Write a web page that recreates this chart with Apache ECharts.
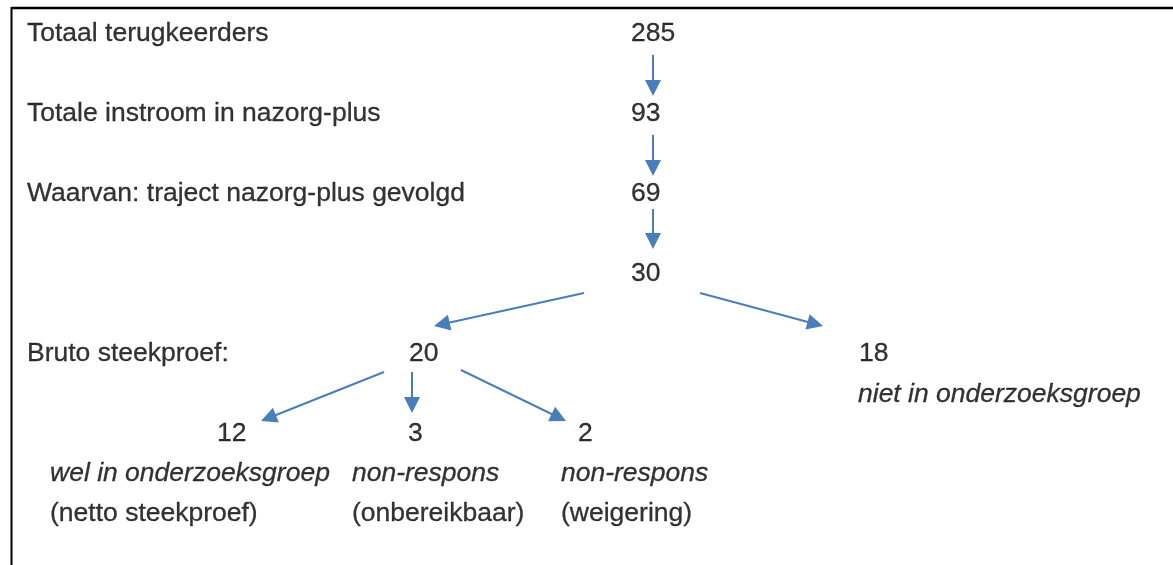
<!DOCTYPE html>
<html>
<head>
<meta charset="utf-8">
<script src="https://cdn.jsdelivr.net/npm/echarts@6/dist/echarts.min.js"></script>
<style>
html,body{margin:0;padding:0;background:#fff;}
#chart{width:1173px;height:565px;}
</style>
</head>
<body>
<div id="chart"></div>
<script>
// ---- data ----
var rowLabels = ['Totaal terugkeerders', 'Totale instroom in nazorg-plus', 'Waarvan: traject nazorg-plus gevolgd', 'Bruto steekproef:'];
var counts = [285, 93, 69, 30, 20, 18, 12, 3, 2];
var italicNotes = ['niet in onderzoeksgroep', 'wel in onderzoeksgroep', 'non-respons', 'non-respons'];
var plainNotes = ['(netto steekproef)', '(onbereikbaar)', '(weigering)'];
// flows: [fromIndex, toIndex] into counts
var flows = [[0,1],[1,2],[2,3],[3,4],[3,5],[4,6],[4,7],[4,8]];

// ---- layout (positions kept separate from data) ----
var rowLabelPos = [[27,34],[27,114],[27,194],[27,354]];
var countPos = [[631,34],[631,114],[631,194],[631,274],[409,354],[859,354],[217,434],[408,434],[578,434]];
var italicPos = [[858,395],[50,474],[352,474],[561,474]];
var plainPos = [[50,514],[352,514],[561,514]];
var flowPos = [
  [[653,55],[653,96]],
  [[653,135],[653,176]],
  [[653,209],[653,249]],
  [[584,293],[434,326]],
  [[700,293],[823,326]],
  [[384,372],[261,421]],
  [[412,372],[412,413]],
  [[461,370],[566,421]]
];

var FONT = 'Liberation Sans, Arial, Helvetica, sans-serif';
var FS = 26.5;

function pts(labels, pos) {
  return labels.map(function (l, i) { return { value: pos[i], name: String(l) }; });
}
function textSeries(labels, pos, italic) {
  return {
    type: 'scatter',
    symbolSize: 0,
    silent: true,
    data: pts(labels, pos),
    label: {
      show: true,
      position: 'inside',
      align: 'left',
      verticalAlign: 'middle',
      formatter: function (p) { return p.name; },
      color: '#000',
      textBorderColor: '#000',
      textBorderWidth: 0.3,
      fontFamily: FONT,
      fontSize: FS,
      fontStyle: italic ? 'italic' : 'normal'
    }
  };
}

// shorten each arrow by half the head so a centred triangle puts its tip on the end point
var HEAD = 16;
function arrowCoords(c) {
  var dx = c[1][0] - c[0][0], dy = c[1][1] - c[0][1];
  var len = Math.sqrt(dx * dx + dy * dy);
  var k = (HEAD / 2) / len;
  return [c[0], [c[1][0] - dx * k, c[1][1] - dy * k]];
}

var chart = echarts.init(document.getElementById('chart'), null, { renderer: 'canvas' });
chart.setOption({
  backgroundColor: '#fff',
  animation: false,
  grid: { left: 0, right: 0, top: 0, bottom: 0 },
  xAxis: { type: 'value', min: 0, max: 1173, show: false },
  yAxis: { type: 'value', min: 0, max: 565, inverse: true, show: false },
  graphic: [
    { type: 'line', shape: { x1: 11, y1: 8, x2: 1173, y2: 8 }, style: { stroke: '#000', lineWidth: 2.5 } },
    { type: 'line', shape: { x1: 11.5, y1: 7, x2: 11.5, y2: 565 }, style: { stroke: '#000', lineWidth: 2 } }
  ],
  series: [
    textSeries(rowLabels, rowLabelPos, false),
    textSeries(counts, countPos, false),
    textSeries(italicNotes, italicPos, true),
    textSeries(plainNotes, plainPos, false),
    {
      type: 'lines',
      coordinateSystem: 'cartesian2d',
      silent: true,
      symbol: ['none', 'triangle'],
      symbolSize: HEAD,
      lineStyle: { color: '#4A7EBB', width: 2, opacity: 1 },
      itemStyle: { color: '#4A7EBB' },
      data: flows.map(function (f, i) {
        return { name: counts[f[0]] + '→' + counts[f[1]], coords: arrowCoords(flowPos[i]) };
      })
    }
  ]
});
</script>
</body>
</html>
